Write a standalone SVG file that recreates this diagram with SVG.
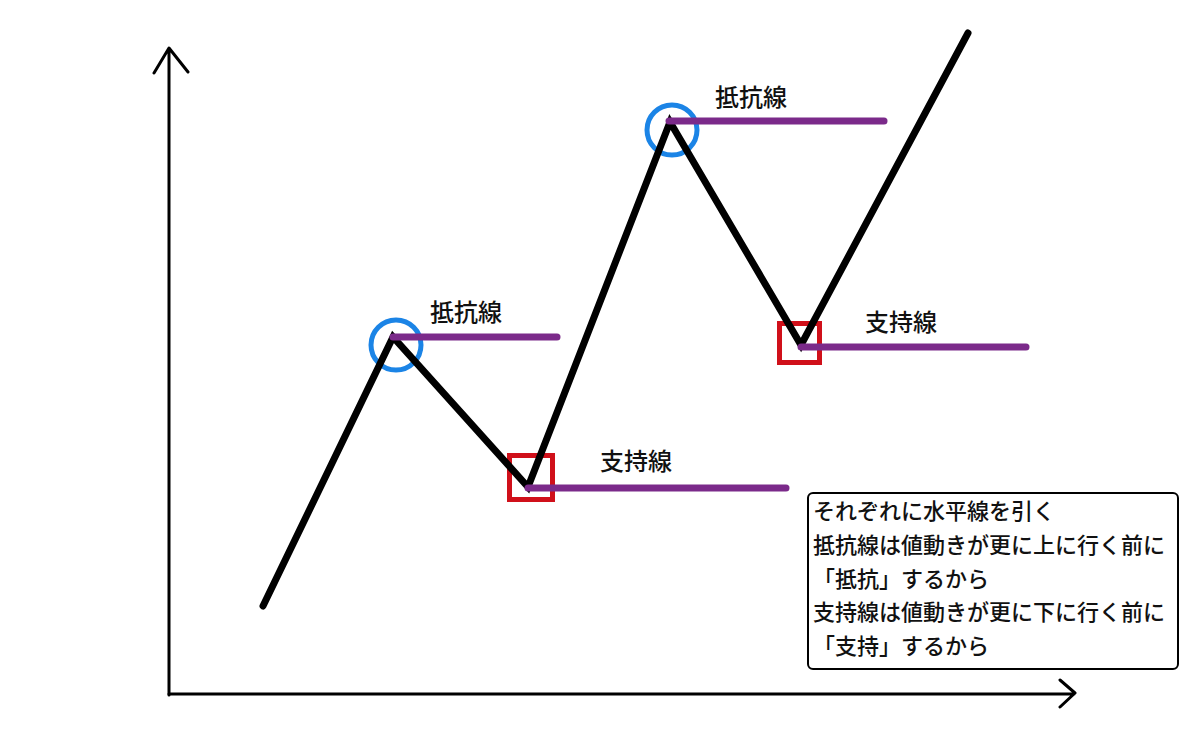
<svg xmlns="http://www.w3.org/2000/svg" width="1200" height="750" viewBox="0 0 1200 750">
<style>
.axis{fill:none;stroke:#000;stroke-width:3;stroke-linecap:round;stroke-linejoin:round}
.price{fill:none;stroke:#000;stroke-width:7;stroke-linecap:round;stroke-linejoin:miter}
.level{stroke:#7b2a8a;stroke-width:7;stroke-linecap:round}
.peak{fill:none;stroke:#1b84e6;stroke-width:5}
.trough{fill:none;stroke:#d0101a;stroke-width:5}
.lbl{font-family:"Noto Sans CJK JP","Noto Sans",sans-serif;font-size:24px;font-weight:500;fill:#111}
.note{font-family:"Noto Sans CJK JP","Noto Sans",sans-serif;font-size:22px;font-weight:500;fill:#111}
</style>
<rect width="1200" height="750" fill="#fff"/>
<g id="axes">
<path class="axis" d="M169 695 L169 49 M154 73 L169 48 L188 72"/>
<path class="axis" d="M169 694 L1074 694 M1060 680 L1075 693 L1060 707"/>
</g>
<g id="peak1"><circle class="peak" cx="396" cy="345" r="25"/></g>
<g id="peak2"><circle class="peak" cx="672" cy="130" r="25"/></g>
<g id="trough1"><rect class="trough" x="509.5" y="455.5" width="43" height="44"/></g>
<g id="trough2"><rect class="trough" x="779.5" y="323.5" width="40" height="39"/></g>
<g id="connectors">
<polyline class="price" points="263,606 393,337 528,487 670,122 801,345 968,33"/>
<line class="level" x1="393" y1="337" x2="557" y2="337"/>
<line class="level" x1="669" y1="121" x2="884" y2="121"/>
<line class="level" x1="528" y1="488" x2="786" y2="488"/>
<line class="level" x1="801" y1="347" x2="1026" y2="347"/>
</g>
<g id="labels">
<text class="lbl" x="430" y="321">抵抗線</text>
<text class="lbl" x="715" y="106">抵抗線</text>
<text class="lbl" x="600" y="470">支持線</text>
<text class="lbl" x="865" y="331">支持線</text>
</g>
<g id="note">
<rect x="808" y="493" width="370" height="176" rx="5" fill="#fff" stroke="#000" stroke-width="2"/>
<text class="note" x="813" y="519">それぞれに水平線を引く</text>
<text class="note" x="813" y="553">抵抗線は値動きが更に上に行く前に</text>
<text class="note" x="813" y="587">「抵抗」するから</text>
<text class="note" x="813" y="620">支持線は値動きが更に下に行く前に</text>
<text class="note" x="813" y="654">「支持」するから</text>
</g>
</svg>
